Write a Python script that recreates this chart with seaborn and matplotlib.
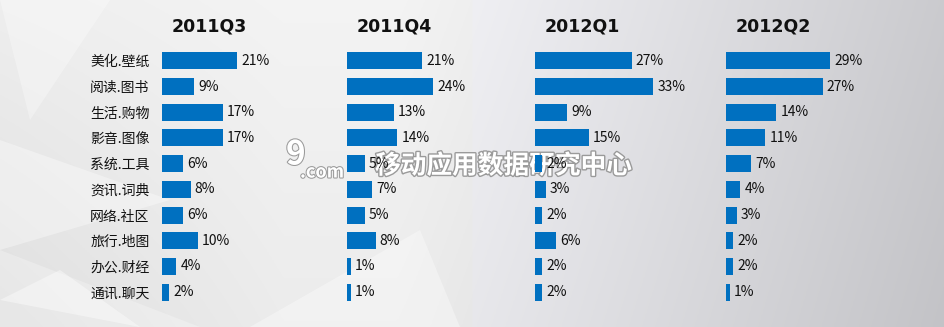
import numpy as np
import pandas as pd
import matplotlib
matplotlib.use('Agg')
import matplotlib.pyplot as plt
import matplotlib.patheffects as pe
from matplotlib.patches import Polygon
import seaborn as sns

categories = ['美化.壁纸', '阅读.图书', '生活.购物', '影音.图像', '系统.工具',
              '资讯.词典', '网络.社区', '旅行.地图', '办公.财经', '通讯.聊天']
quarters = ['2011Q3', '2011Q4', '2012Q1', '2012Q2']
q2011q3 = [21, 9, 17, 17, 6, 8, 6, 10, 4, 2]
q2011q4 = [21, 24, 13, 14, 5, 7, 5, 8, 1, 1]
q2012q1 = [27, 33, 9, 15, 2, 3, 2, 6, 2, 2]
q2012q2 = [29, 27, 14, 11, 7, 4, 3, 2, 2, 1]
series = [q2011q3, q2011q4, q2012q1, q2012q2]

sns.set_theme(style='white')
plt.rcParams['font.family'] = ['Noto Sans CJK SC', 'DejaVu Sans']

W, H = 945, 327
fig = plt.figure(figsize=(W / 100, H / 100), dpi=100)

# background gradient
bg = fig.add_axes([0, 0, 1, 1], zorder=-2)
bg.set_xlim(0, W); bg.set_ylim(H, 0); bg.axis('off')
yy, xx = np.mgrid[0:1:200j, 0:1:400j]
v = 0.955 - 0.16 * (np.clip(xx - 0.42, 0, None) / 0.58) ** 1.1 - 0.03 * yy \
    - 0.05 * np.clip(1 - xx / 0.3, 0, None) * (0.4 + yy * 0.6)
img = np.dstack([v, v, v + 0.015 * (xx > 0.5)])
bg.imshow(np.clip(img, 0, 1), extent=[0, W, H, 0], aspect='auto', zorder=0)
shapes = [
    ([(0, 140), (170, 200), (0, 250)], 0.35),
    ([(0, 250), (200, 327), (0, 327)], 0.25),
    ([(0, 0), (110, 0), (30, 120)], 0.3),
    ([(250, 327), (420, 230), (460, 327)], 0.35),
    ([(0, 300), (60, 270), (140, 327)], 0.4),
]
for pts, a in shapes:
    bg.add_patch(Polygon(pts, closed=True, facecolor='white', alpha=a, lw=0, zorder=1))

# watermark (drawn under the chart)
stroke = [pe.withStroke(linewidth=2, foreground='#9a9a9a')]
bg.text(375, 166, '移动应用数据研究中心', ha='left', va='center',
        fontsize=18.5, fontweight='bold', color='white', path_effects=stroke, zorder=2)
bg.text(300, 172, '.com', ha='left', va='center', fontsize=13,
        fontweight='bold', color='white',
        path_effects=[pe.withStroke(linewidth=1.5, foreground='#9a9a9a')], zorder=2)
bg.text(286, 155, '9', ha='left', va='center', fontsize=24,
        fontweight='bold', fontstyle='italic', color='white',
        path_effects=[pe.withStroke(linewidth=1.5, foreground='#9a9a9a')], zorder=2)

origins = [162, 347, 535, 726]
px_per_unit = 3.58
ax_w = 180
top, bottom = 48, 305
for k, (q, vals, x0) in enumerate(zip(quarters, series, origins)):
    ax = fig.add_axes([x0 / W, (H - bottom) / H, ax_w / W, (bottom - top) / H])
    ax.patch.set_alpha(0)
    df = pd.DataFrame({'category': categories, 'value': vals})
    sns.barplot(data=df, x='value', y='category', orient='h', color='#0070C0',
                saturation=1, width=0.66, ax=ax, order=categories, linewidth=0)
    ax.set_xlim(0, ax_w / px_per_unit)
    ax.set_ylim(len(categories) - 0.5, -0.5)
    for s in ax.spines.values():
        s.set_visible(False)
    ax.set_xticks([])
    ax.set_xlabel('')
    ax.set_ylabel('')
    if k == 0:
        ax.tick_params(axis='y', length=0, pad=9, labelsize=10, labelcolor='#111111')
    else:
        ax.set_yticks([])
    for i, val in enumerate(vals):
        ax.annotate(f'{val}%', (val, i), xytext=(3, 0), textcoords='offset points',
                    ha='left', va='center', fontsize=10, color='#111111')
    fig.text((x0 + 47) / W, 1 - 27 / H, q, ha='center', va='center',
             fontsize=12.5, fontweight='bold', color='#111111',
             family=['DejaVu Sans'])

fig.savefig('out.png', dpi=100)
